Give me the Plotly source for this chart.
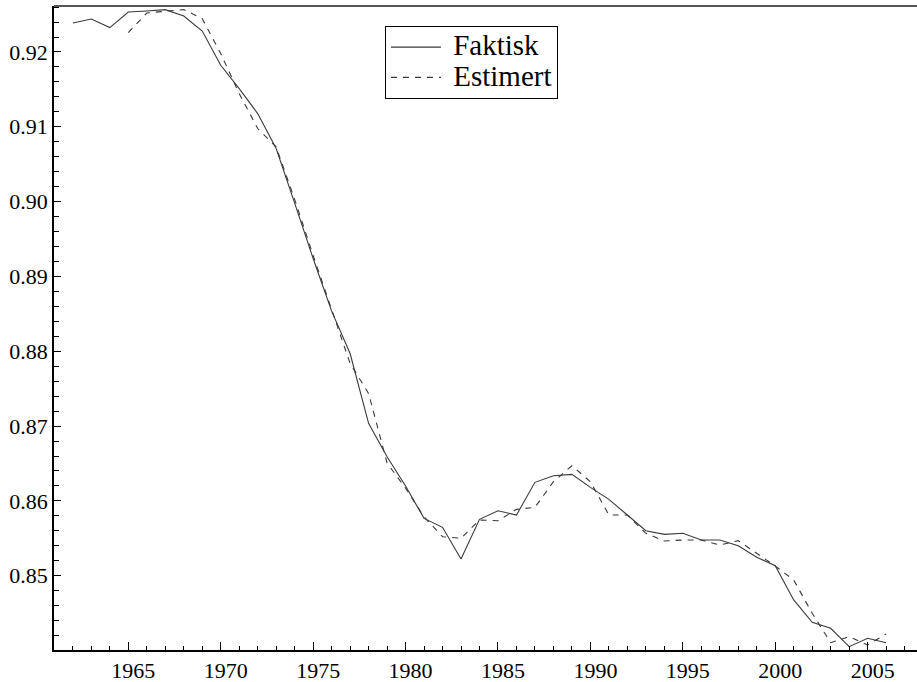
import plotly.graph_objects as go

years_faktisk = list(range(1962, 2007))
faktisk = [0.92387, 0.92441, 0.92326, 0.92534, 0.92548, 0.92566, 0.92481, 0.92280,
           0.91822, 0.91511, 0.91177, 0.90710, 0.89980, 0.89240, 0.88536, 0.87970,
           0.87036, 0.86590, 0.86198, 0.85766, 0.85647, 0.85223, 0.85754, 0.85868,
           0.85811, 0.86248, 0.86336, 0.86355, 0.86181, 0.86020, 0.85811, 0.85601,
           0.85553, 0.85567, 0.85477, 0.85477, 0.85401, 0.85246, 0.85134, 0.84676,
           0.84377, 0.84297, 0.84052, 0.84164, 0.84105]

years_estimert = list(range(1965, 2007))
estimert = [0.92259, 0.92521, 0.92544, 0.92566, 0.92446, 0.91979, 0.91444, 0.90977,
            0.90731, 0.90030, 0.89280, 0.88550, 0.87837, 0.87437, 0.86506, 0.86170,
            0.85788, 0.85521, 0.85500, 0.85744, 0.85735, 0.85887, 0.85914, 0.86256,
            0.86470, 0.86256, 0.85811, 0.85811, 0.85567, 0.85464, 0.85477, 0.85477,
            0.85410, 0.85468, 0.85300, 0.85130, 0.84943, 0.84498, 0.84105, 0.84185,
            0.84074, 0.84222]

series_names = ["Faktisk", "Estimert"]
y_ticks = [0.85, 0.86, 0.87, 0.88, 0.89, 0.90, 0.91, 0.92]
y_tick_labels = ["0.85", "0.86", "0.87", "0.88", "0.89", "0.90", "0.91", "0.92"]
x_ticks = [1965, 1970, 1975, 1980, 1985, 1990, 1995, 2000, 2005]

FONT = "Liberation Serif, Times New Roman, serif"
LINE_COLOR = "#3a3a3a"


def legend_label(name):
    return '<span style="font-size:29px">&nbsp;' + name + '</span>'


fig = go.Figure()
fig.add_trace(go.Scatter(x=years_faktisk, y=faktisk, mode="lines",
                         name=legend_label(series_names[0]),
                         line=dict(color=LINE_COLOR, width=1.1)))
fig.add_trace(go.Scatter(x=years_estimert, y=estimert, mode="lines",
                         name=legend_label(series_names[1]),
                         line=dict(color=LINE_COLOR, width=1.1, dash="6px,6px")))

fig.update_layout(
    width=917, height=682,
    margin=dict(l=54, r=0, t=6, b=32, autoexpand=False),
    paper_bgcolor="white", plot_bgcolor="white",
    font=dict(family=FONT, size=22, color="black"),
    showlegend=True,
    legend=dict(x=0.3835, y=0.969, xanchor="left", yanchor="top",
                bordercolor="black", borderwidth=1, bgcolor="white",
                font=dict(family=FONT, size=21, color="black"),
                itemwidth=50, tracegroupgap=0),
)

fig.update_xaxes(
    range=[1960.98, 2007.67], automargin=False,
    tickmode="array", tickvals=x_ticks, ticktext=[str(v) for v in x_ticks],
    ticks="inside", ticklen=8, tickwidth=1, tickcolor="black",
    ticklabelshift=5,
    minor=dict(dtick=1, tick0=1960, ticks="inside", ticklen=4, tickwidth=1, tickcolor="black"),
    showline=True, linecolor="black", linewidth=1.5,
    showgrid=False, zeroline=False,
    tickfont=dict(family=FONT, size=22, color="black"),
)
fig.update_yaxes(
    range=[0.84007, 0.926145], automargin=False,
    tickmode="array", tickvals=y_ticks, ticktext=y_tick_labels,
    ticks="inside", ticklen=7, tickwidth=1, tickcolor="black",
    minor=dict(dtick=0.002, tick0=0.84, ticks="inside", ticklen=5, tickwidth=1, tickcolor="black"),
    showline=True, linecolor="black", linewidth=1.5,
    showgrid=False, zeroline=False,
    tickfont=dict(family=FONT, size=22, color="black"),
)

fig.add_shape(type="line", xref="paper", yref="paper", x0=0, x1=1, y0=1, y1=1,
              line=dict(color="#555555", width=2))

fig.write_html("out.html", config={"displayModeBar": False},
               post_script="document.body.style.margin='0';")
